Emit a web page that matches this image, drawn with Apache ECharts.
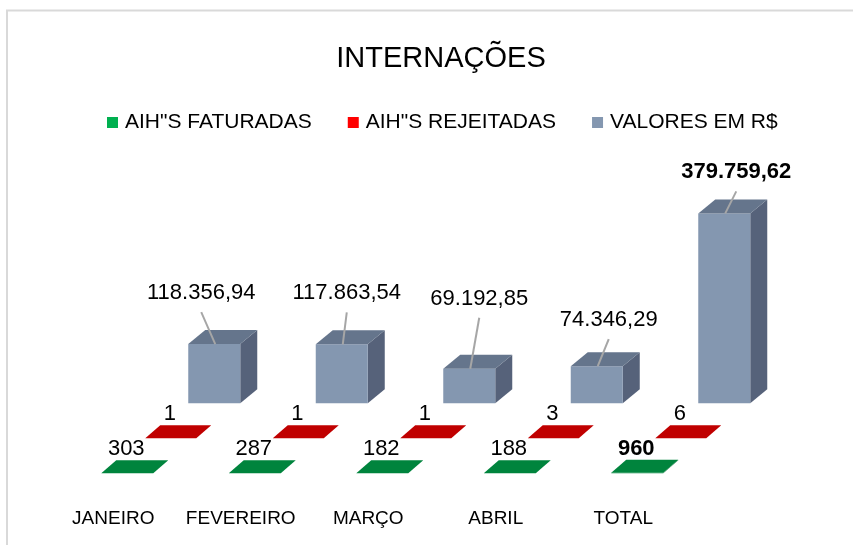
<!DOCTYPE html>
<html>
<head>
<meta charset="utf-8">
<script src="https://cdn.jsdelivr.net/npm/echarts@6/dist/echarts.min.js"></script>
<style>
html,body{margin:0;padding:0;background:#fff;}
#chart{width:853px;height:545px;}
</style>
</head>
<body>
<div id="chart"></div>
<script>
const categories = ['JANEIRO', 'FEVEREIRO', 'MARÇO', 'ABRIL', 'TOTAL'];
const faturadas = [303, 287, 182, 188, 960];
const rejeitadas = [1, 1, 1, 3, 6];
const valores = [118356.94, 117863.54, 69192.85, 74346.29, 379759.62];
const seriesNames = ['AIH"S FATURADAS', 'AIH"S REJEITADAS', 'VALORES EM R$'];

// label placement (layout only): offset of value label from the bar's top-front centre
const valorLabelOffset = [[-13, -51], [5, -51], [10, -70], [12, -46], [12, -41]];

const FONT = 'Liberation Sans';

function fmtBR(v) {
  const parts = v.toFixed(2).split('.');
  const intPart = parts[0].replace(/\B(?=(\d{3})+(?!\d))/g, '.');
  return intPart + ',' + parts[1];
}

function makeBox(opts) {
  return function (params, api) {
    const i = api.value(0);
    const v = api.value(1);
    const top = api.coord([i, v]);
    const base = api.coord([i, 0]);
    const w = opts.width;
    const x0 = top[0] - w / 2, x1 = top[0] + w / 2;
    const yT = Math.min(top[1], base[1] - 0.01), yB = base[1];
    const dx = opts.dx, dy = opts.dy;
    const children = [
      { type: 'polygon', shape: { points: [[x1, yT], [x1 + dx, yT + dy], [x1 + dx, yB + dy], [x1, yB]] }, style: { fill: opts.side } },
      { type: 'rect', shape: { x: x0, y: yT, width: w, height: yB - yT }, style: { fill: opts.front } },
      { type: 'polygon', shape: { points: [[x0, yT], [x1, yT], [x1 + dx, yT + dy], [x0 + dx, yT + dy]] }, style: { fill: opts.top } }
    ];
    const bold = opts.boldLast && params.dataIndex === categories.length - 1;
    const font = (bold ? 'bold ' : '') + '22px "' + FONT + '"';
    if (opts.leader) {
      const off = valorLabelOffset[params.dataIndex];
      const lx = top[0] + off[0], ly = yT + off[1];
      children.push({ type: 'line', shape: { x1: lx, y1: ly + 19, x2: top[0] + 1, y2: yT }, style: { stroke: '#A6A6A6', lineWidth: 2 } });
      children.push({ type: 'text', x: lx, y: ly, style: { text: opts.fmt(v), fill: '#000', font: font, align: 'center', verticalAlign: 'middle' } });
    } else {
      children.push({ type: 'text', x: top[0] - 1, y: yB - 24, style: { text: opts.fmt(v), fill: '#000', font: font, align: 'center', verticalAlign: 'middle' } });
    }
    return { type: 'group', children: children };
  };
}

const chart = echarts.init(document.getElementById('chart'), null, { renderer: 'canvas' });

const gridW = 637.5;
const grids = [
  { left: 63.5, top: 273.3, width: gridW, height: 200 },   // faturadas
  { left: 107, top: 238.3, width: gridW, height: 200 },    // rejeitadas
  { left: 150.5, top: 203.3, width: gridW, height: 200 },  // valores
  { left: 49.5, top: 304, width: gridW, height: 200 }      // category labels
];

const xAxes = grids.map((g, k) => ({
  type: 'category', gridIndex: k, data: categories,
  axisLine: { show: false }, axisTick: { show: false },
  axisLabel: k === 3 ? { show: true, margin: 5, color: '#000', fontFamily: FONT, fontSize: 19, interval: 0 } : { show: false }
}));
const yAxes = grids.map((g, k) => ({
  type: 'value', gridIndex: k, min: 0, max: 400000, show: false, splitLine: { show: false }
}));

const option = {
  backgroundColor: '#fff',
  animation: false,
  title: {
    text: 'INTERNAÇÕES', left: 436, top: 39, textAlign: 'center',
    textStyle: { fontFamily: FONT, fontSize: 29, fontWeight: 'normal', color: '#000' }
  },
  legend: {
    left: 107, top: 112, padding: 0, itemWidth: 11, itemHeight: 11, itemGap: 36, icon: 'rect',
    textStyle: { fontFamily: FONT, fontSize: 21, color: '#000', padding: [0, 0, 0, 2] },
    data: seriesNames
  },
  graphic: [{
    type: 'rect', shape: { x: 7, y: 10.5, width: 900, height: 600 },
    style: { fill: 'none', stroke: '#D9D9D9', lineWidth: 2 }, silent: true, z: -10
  }],
  grid: grids,
  xAxis: xAxes,
  yAxis: yAxes,
  series: [
    {
      name: seriesNames[0], type: 'custom', xAxisIndex: 0, yAxisIndex: 0,
      itemStyle: { color: '#00B050' },
      renderItem: makeBox({ width: 52, dx: 15, dy: -13, front: '#00843D', top: '#00843D', side: '#006B30', boldLast: true, fmt: v => String(v) }),
      encode: { x: 0, y: 1 },
      data: faturadas.map((v, i) => [i, v]), z: 1
    },
    {
      name: seriesNames[1], type: 'custom', xAxisIndex: 1, yAxisIndex: 1,
      itemStyle: { color: '#FF0000' },
      renderItem: makeBox({ width: 51, dx: 15, dy: -13, front: '#C00000', top: '#C00000', side: '#A00000', boldLast: false, fmt: v => String(v) }),
      encode: { x: 0, y: 1 },
      data: rejeitadas.map((v, i) => [i, v]), z: 2
    },
    {
      name: seriesNames[2], type: 'custom', xAxisIndex: 2, yAxisIndex: 2,
      itemStyle: { color: '#8497B0' },
      renderItem: makeBox({ width: 52, dx: 17, dy: -14, front: '#8497B0', top: '#65758C', side: '#56627A', leader: true, boldLast: true, fmt: fmtBR }),
      encode: { x: 0, y: 1 },
      data: valores.map((v, i) => [i, v]), z: 3
    }
  ]
};
chart.setOption(option);
</script>
</body>
</html>
